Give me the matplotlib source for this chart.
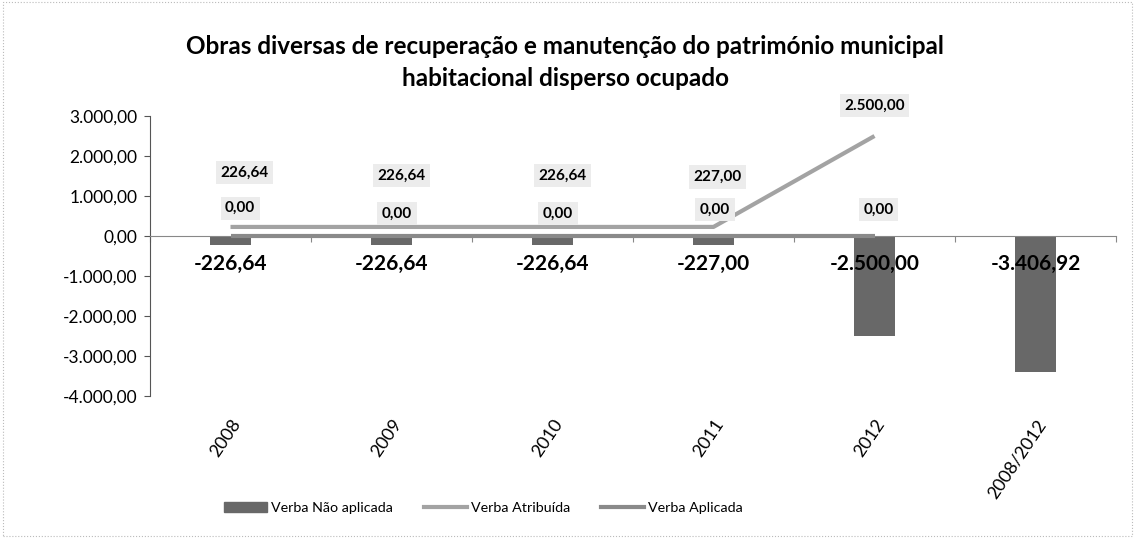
import matplotlib.pyplot as plt
import matplotlib.patches as mpatches
from matplotlib.lines import Line2D
from matplotlib.transforms import blended_transform_factory

plt.rcParams['font.family'] = ['Lato', 'DejaVu Sans']

# data
anos = ['2008', '2009', '2010', '2011', '2012', '2008/2012']
verba_nao_aplicada = [-226.64, -226.64, -226.64, -227.00, -2500.00, -3406.92]
verba_atribuida = [226.64, 226.64, 226.64, 227.00, 2500.00]
verba_aplicada = [0.00, 0.00, 0.00, 0.00, 0.00]
yticks = [3000, 2000, 1000, 0, -1000, -2000, -3000, -4000]


def fmt_pt(v):
    # 1,234.56 -> 1.234,56
    s = '{:,.2f}'.format(v)
    return s.replace(',', '#').replace('.', ',').replace('#', '.')


fig = plt.figure(figsize=(11.35, 5.38), dpi=100)
ax = fig.add_axes([150 / 1135, 1 - 396 / 538, 966 / 1135, 280 / 538])

x = list(range(len(anos)))
bar_col = '#686868'
atr_col = '#a3a3a3'
apl_col = '#8a8a8a'

ax.bar(x, verba_nao_aplicada, width=0.26, color=bar_col, zorder=2)
ax.plot(x[:len(verba_atribuida)], verba_atribuida, color=atr_col, lw=3.0,
        solid_capstyle='butt', zorder=3)
ax.plot(x[:len(verba_aplicada)], verba_aplicada, color=apl_col, lw=3.0,
        solid_capstyle='butt', zorder=3)

ax.set_xlim(-0.5, len(anos) - 0.5)
ax.set_ylim(-4000, 3000)
ax.set_yticks(yticks)
ax.set_yticklabels([fmt_pt(v) for v in yticks], fontsize=12.5)

# category axis sits at zero, ticks between categories
ax.spines['bottom'].set_position(('data', 0))
ax.spines['top'].set_visible(False)
ax.spines['right'].set_visible(False)
ax.spines['left'].set_color('#555555')
ax.spines['bottom'].set_color('#888888')
ax.set_xticks([i - 0.5 for i in range(len(anos) + 1)])
ax.set_xticklabels([])
ax.tick_params(axis='x', length=4, color='#888888')
ax.tick_params(axis='y', length=4, color='#555555', pad=5)

# category labels at the bottom of the plot area
trans = blended_transform_factory(ax.transData, ax.transAxes)
for i, lab in enumerate(anos):
    ax.annotate(lab, (i, 0), xycoords=trans, xytext=(5, -18), textcoords='offset points',
                rotation=56, rotation_mode='anchor', ha='right', va='center',
                fontsize=13, annotation_clip=False)

# labels of the bars
for i, v in enumerate(verba_nao_aplicada):
    ax.annotate(fmt_pt(v), (i, 0), xytext=(0, -20), textcoords='offset points',
                ha='center', va='center', fontsize=15, fontweight='bold', zorder=5)

box = dict(boxstyle='square,pad=0.3', fc='#ececec', ec='none')
atr_off = [(10, 39), (7, 37), (7, 37), (3, 36), (0, 22)]
for i, v in enumerate(verba_atribuida):
    ax.annotate(fmt_pt(v), (i, v), xytext=atr_off[i], textcoords='offset points',
                ha='center', va='center', fontsize=11, fontweight='bold',
                bbox=box, zorder=5)

apl_off = [(7, 20), (4, 16), (4, 16), (1, 19), (3, 19)]
for i, v in enumerate(verba_aplicada):
    ax.annotate(fmt_pt(v), (i, v), xytext=apl_off[i], textcoords='offset points',
                ha='center', va='center', fontsize=11, fontweight='bold',
                bbox=box, zorder=5)

fig.text(0.498, 1 - 47 / 538, 'Obras diversas de recuperação e manutenção do património municipal',
         ha='center', va='center', fontsize=17.5, fontweight='bold')
fig.text(0.498, 1 - 78 / 538, 'habitacional disperso ocupado',
         ha='center', va='center', fontsize=17.5, fontweight='bold')

handles = [mpatches.Patch(color=bar_col),
           Line2D([], [], color=atr_col, lw=3),
           Line2D([], [], color=apl_col, lw=3)]
fig.legend(handles, ['Verba Não aplicada', 'Verba Atribuída', 'Verba Aplicada'],
           loc='center', bbox_to_anchor=(0.426, 1 - 508 / 538), ncol=3, frameon=False,
           fontsize=10.3, handlelength=3.0, handletextpad=0.25, columnspacing=2.2)

# outer chart border
fig.patches.append(mpatches.Rectangle((0.003, 0.004), 0.994, 0.992, transform=fig.transFigure,
                                      fill=False, ec='#bbbbbb', lw=0.8, ls=':'))

fig.savefig('out.png', dpi=100)
